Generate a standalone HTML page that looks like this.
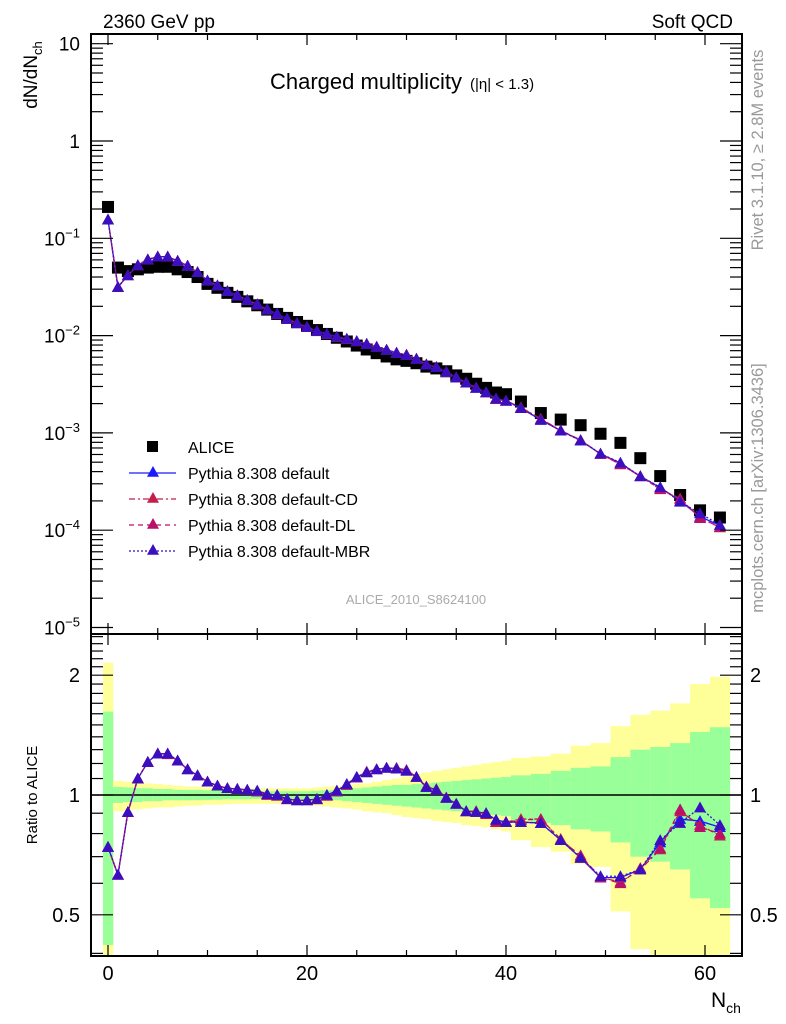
<!DOCTYPE html>
<html><head><meta charset="utf-8"><style>
html,body{margin:0;padding:0;background:#fff;}
svg{display:block;font-family:"Liberation Sans",sans-serif;}
</style></head><body>
<svg id="chart" width="786" height="1024" viewBox="0 0 786 1024" xmlns="http://www.w3.org/2000/svg">
<defs>
<clipPath id="clipMain"><rect x="91" y="34" width="651" height="600"/></clipPath>
<clipPath id="clipRatio"><rect x="91" y="634" width="651" height="322"/></clipPath>
</defs>
<g id="bands" clip-path="url(#clipRatio)"></g>
<g id="ratioMarks" clip-path="url(#clipRatio)"></g>
<g id="mainMarks" clip-path="url(#clipMain)"></g>
<g id="axes"></g>
<text x="103" y="28" font-size="19">2360 GeV pp</text>
<text x="733" y="28" font-size="19" text-anchor="end">Soft QCD</text>
<text x="270" y="89" font-size="22">Charged multiplicity</text>
<text x="470" y="89" font-size="15">(|η| &lt; 1.3)</text>
<text transform="translate(37,75) rotate(-90)" font-size="19" text-anchor="middle">dN/dN<tspan font-size="13" dy="5">ch</tspan></text>
<text transform="translate(37,795) rotate(-90)" font-size="15" text-anchor="middle">Ratio to ALICE</text>
<text x="711" y="1007" font-size="21">N<tspan font-size="14" dy="6">ch</tspan></text>
<text transform="translate(763,150) rotate(-90)" font-size="16.5" fill="#999" text-anchor="middle">Rivet 3.1.10, ≥ 2.8M events</text>
<text transform="translate(763,488) rotate(-90)" font-size="16.5" fill="#999" text-anchor="middle">mcplots.cern.ch [arXiv:1306.3436]</text>
<text x="416" y="604" font-size="13" fill="#aaa" text-anchor="middle">ALICE_2010_S8624100</text>
<g id="legend"></g>
</svg>
<script>
const nch = [0,1,2,3,4,5,6,7,8,9,10,11,12,13,14,15,16,17,18,19,20,21,22,23,24,25,26,27,28,29,30,31,32,33,34,35,36,37,38,39,40,41.5,43.5,45.5,47.5,49.5,51.5,53.5,55.5,57.5,59.5,61.5];
const alice = [0.21,0.050,0.046,0.048,0.050,0.051,0.051,0.048,0.045,0.040,0.034,0.031,0.0275,0.025,0.0225,0.0205,0.0185,0.0167,0.0152,0.0138,0.0126,0.0114,0.0104,0.0095,0.0087,0.0079,0.0072,0.0066,0.0061,0.0057,0.0055,0.0052,0.0048,0.0046,0.0043,0.0039,0.0036,0.0032,0.0029,0.0026,0.0025,0.0021,0.0016,0.00137,0.0012,0.00098,0.00079,0.00055,0.00036,0.00023,0.00016,0.000135];
const ratioDefault = [0.74,0.63,0.906,1.10,1.21,1.27,1.27,1.22,1.16,1.12,1.08,1.055,1.04,1.035,1.03,1.025,1.005,1.0,0.977,0.97,0.97,0.977,1.0,1.025,1.065,1.11,1.14,1.16,1.17,1.165,1.15,1.11,1.047,1.03,0.983,0.95,0.91,0.906,0.90,0.866,0.855,0.855,0.85,0.77,0.695,0.62,0.62,0.65,0.76,0.87,0.86,0.83];
const ratioCD = [0.74,0.63,0.905,1.10,1.21,1.27,1.265,1.22,1.16,1.12,1.08,1.055,1.04,1.035,1.03,1.02,1.0,0.995,0.975,0.97,0.97,0.975,0.995,1.02,1.06,1.105,1.145,1.16,1.17,1.17,1.155,1.11,1.05,1.035,0.985,0.95,0.91,0.91,0.90,0.855,0.855,0.87,0.87,0.775,0.70,0.62,0.605,0.65,0.73,0.91,0.84,0.79];
const ratioDL = [0.74,0.63,0.905,1.10,1.21,1.27,1.27,1.22,1.16,1.12,1.08,1.055,1.04,1.035,1.03,1.02,1.0,0.995,0.975,0.97,0.97,0.975,0.995,1.02,1.06,1.105,1.14,1.16,1.17,1.165,1.155,1.11,1.05,1.03,0.985,0.95,0.91,0.91,0.895,0.855,0.855,0.865,0.87,0.77,0.705,0.62,0.60,0.655,0.735,0.92,0.83,0.80];
const ratioMBR = [0.74,0.63,0.906,1.10,1.21,1.27,1.27,1.22,1.16,1.12,1.08,1.055,1.04,1.035,1.03,1.025,1.005,1.0,0.977,0.97,0.97,0.977,1.0,1.025,1.065,1.11,1.14,1.16,1.17,1.165,1.15,1.11,1.047,1.03,0.983,0.95,0.91,0.906,0.90,0.866,0.855,0.855,0.85,0.77,0.695,0.625,0.625,0.65,0.77,0.85,0.93,0.84];
const yellowUp = [2.15,1.085,1.08,1.075,1.07,1.065,1.06,1.055,1.05,1.05,1.045,1.045,1.04,1.04,1.04,1.04,1.04,1.04,1.04,1.04,1.04,1.045,1.05,1.055,1.06,1.065,1.07,1.08,1.09,1.10,1.115,1.13,1.14,1.15,1.16,1.17,1.18,1.19,1.2,1.21,1.22,1.24,1.25,1.27,1.33,1.35,1.49,1.59,1.63,1.70,1.90,1.98];
const greenUp = [1.62,1.047,1.045,1.04,1.04,1.035,1.035,1.03,1.03,1.03,1.028,1.027,1.025,1.025,1.024,1.023,1.022,1.022,1.022,1.022,1.022,1.025,1.028,1.03,1.035,1.04,1.045,1.05,1.055,1.06,1.06,1.065,1.07,1.075,1.08,1.085,1.09,1.095,1.10,1.105,1.11,1.12,1.13,1.15,1.17,1.18,1.245,1.30,1.32,1.35,1.44,1.48];
const greenDn = [0.42,0.955,0.96,0.96,0.965,0.965,0.97,0.97,0.97,0.97,0.972,0.973,0.975,0.975,0.976,0.977,0.978,0.978,0.978,0.978,0.978,0.975,0.972,0.97,0.965,0.96,0.955,0.95,0.945,0.94,0.935,0.93,0.925,0.92,0.915,0.91,0.905,0.9,0.895,0.89,0.885,0.865,0.85,0.84,0.82,0.81,0.76,0.70,0.68,0.65,0.55,0.52];
const yellowDn = [0.30,0.91,0.915,0.92,0.925,0.93,0.93,0.935,0.94,0.94,0.945,0.945,0.948,0.95,0.95,0.95,0.95,0.95,0.95,0.948,0.946,0.94,0.935,0.93,0.925,0.92,0.91,0.905,0.9,0.89,0.88,0.875,0.87,0.86,0.855,0.85,0.84,0.835,0.83,0.82,0.81,0.77,0.74,0.72,0.67,0.66,0.51,0.41,0.3,0.3,0.3,0.3];
const xTicks = [0,20,40,60];
const xTickLabels = ["0","20","40","60"];
const ratioTicks = [0.5,1,2];
const ratioTickLabels = ["0.5","1","2"];

const NS = "http://www.w3.org/2000/svg";
const X0 = 91, X1 = 742, MT = 34, MB = 634, RB = 956;
function xs(n){ return 108 + 9.95*n; }
function ym(v){ return 141 - 97.3*Math.log10(v); }
function yr(r){ return 795 - 398*Math.log10(r); }
function mk(tag, attrs, parent){ const e=document.createElementNS(NS,tag); for(const k in attrs) e.setAttribute(k,attrs[k]); parent.appendChild(e); return e; }

const lo=[], hi=[];
let edge=-0.5;
for(let i=0;i<nch.length;i++){ lo.push(edge); hi.push(2*nch[i]-edge); edge=2*nch[i]-edge; }

const bands=document.getElementById('bands');
for(let i=0;i<nch.length;i++){
  const w=xs(hi[i])-xs(lo[i]);
  const y1=mk('rect',{x:xs(lo[i]),y:yr(yellowUp[i]),width:w+0.3,height:yr(yellowDn[i])-yr(yellowUp[i]),fill:'#ffff99'},bands);
  
  
  const g1=mk('rect',{x:xs(lo[i]),y:yr(greenUp[i]),width:w+0.3,height:yr(greenDn[i])-yr(greenUp[i]),fill:'#99ff99'},bands);
  
  
}
const ref=mk('line',{x1:X0,x2:X1,y1:yr(1),y2:yr(1),stroke:'#000','stroke-width':1.5},bands);



const series=[
  {name:'default',r:ratioDefault,color:'#1a1aff',dash:''},
  {name:'default-cd',r:ratioCD,color:'#c41e4a',dash:'6,3,2,3'},
  {name:'default-dl',r:ratioDL,color:'#b8116a',dash:'5,4'},
  {name:'default-mbr',r:ratioMBR,color:'#3a0fc0',dash:'2,2'}
];
function tri(cx,cy,s,color,parent,name){
  const p=mk('polygon',{points:`${cx},${cy-s} ${cx-s},${cy+s*0.8} ${cx+s},${cy+s*0.8}`,fill:color},parent);
  
  
  return p;
}
const mainG=document.getElementById('mainMarks');
const ratioG=document.getElementById('ratioMarks');
for(let i=0;i<nch.length;i++){
  const s=mk('rect',{x:xs(nch[i])-6,y:ym(alice[i])-6,width:12,height:12,fill:'#000'},mainG);
  
  
}
for(const s of series){
  const mainPts=nch.map((n,i)=>[xs(n),ym(alice[i]*s.r[i])]);
  const ratPts=nch.map((n,i)=>[xs(n),yr(s.r[i])]);
  const l1=mk('polyline',{points:mainPts.map(p=>p.join(',')).join(' '),fill:'none',stroke:s.color,'stroke-width':1.3,'stroke-dasharray':s.dash},mainG);
  
  
  const l2=mk('polyline',{points:ratPts.map(p=>p.join(',')).join(' '),fill:'none',stroke:s.color,'stroke-width':1.3,'stroke-dasharray':s.dash},ratioG);
  
  
  for(const p of mainPts) tri(p[0],p[1],6,s.color,mainG,'pythia-'+s.name+'-point');
  for(const p of ratPts) tri(p[0],p[1],6,s.color,ratioG,'pythia-'+s.name+'-ratio-point');
}

const ax=document.getElementById('axes');
mk('rect',{x:X0,y:MT,width:X1-X0,height:RB-MT,fill:'none',stroke:'#000','stroke-width':2},ax);
mk('line',{x1:X0,x2:X1,y1:MB,y2:MB,stroke:'#000','stroke-width':2},ax);
function line(x1,y1,x2,y2){ mk('line',{x1,y1,x2,y2,stroke:'#000','stroke-width':1.2},ax); }
function txt(x,y,s,anchor,size){ const t=mk('text',{x,y,'font-size':size||19,'text-anchor':anchor},ax); t.innerHTML=s; return t; }
for(let n=0;n<=60;n+=5){
  const x=xs(n), L=(n%20===0)?11:6;
  line(x,MT,x,MT+L); line(x,MB,x,MB-L); line(x,MB,x,MB+L); line(x,RB,x,RB-L);
}
xTicks.forEach((n,i)=>{ const t=txt(xs(n),980,xTickLabels[i],'middle',20);   });
const mainLabels=['10','1','10<tspan font-size="13" dy="-8">−1</tspan>','10<tspan font-size="13" dy="-8">−2</tspan>','10<tspan font-size="13" dy="-8">−3</tspan>','10<tspan font-size="13" dy="-8">−4</tspan>','10<tspan font-size="13" dy="-8">−5</tspan>'];
for(let d=1;d>=-5;d--){
  for(let m=1;m<10;m++){
    const v=m*Math.pow(10,d); const y=ym(v);
    if(y<MT||y>MB) continue;
    const L=m===1?22:12;
    line(X0,y,X0+L,y); line(X1,y,X1-L,y);
  }
  const t=txt(80,ym(Math.pow(10,d))+7,mainLabels[1-d],'end',19);
  
  
}
for(let v=0.4;v<=2.55;v+=0.1){
  const vv=Math.round(v*10)/10; const y=yr(vv);
  if(y<MB||y>RB) continue;
  const L=(vv===0.5||vv===1||vv===2)?22:12;
  line(X0,y,X0+L,y); line(X1,y,X1-L,y);
}
ratioTicks.forEach((v,i)=>{
  const a=txt(80,yr(v)+7,ratioTickLabels[i],'end',20);  
  const b=txt(750,yr(v)+7,ratioTickLabels[i],'start',20);  
});

const lg=document.getElementById('legend');
const sq=mk('rect',{x:147,y:441,width:11,height:11,fill:'#000'},lg);


const lt=mk('text',{x:188,y:453,'font-size':16},lg); lt.textContent='ALICE';


const legNames=['Pythia 8.308 default','Pythia 8.308 default-CD','Pythia 8.308 default-DL','Pythia 8.308 default-MBR'];
series.forEach((s,i)=>{
  const y=473+26*i;
  const l=mk('line',{x1:129,x2:176,y1:y,y2:y,stroke:s.color,'stroke-width':1.3,'stroke-dasharray':s.dash},lg);
  
  
  tri(153,y-1,6,s.color,lg,'legend-'+s.name+'-marker');
  const t=mk('text',{x:188,y:y+6,'font-size':16},lg); t.textContent=legNames[i];
  
  
});
</script>
</body></html>
